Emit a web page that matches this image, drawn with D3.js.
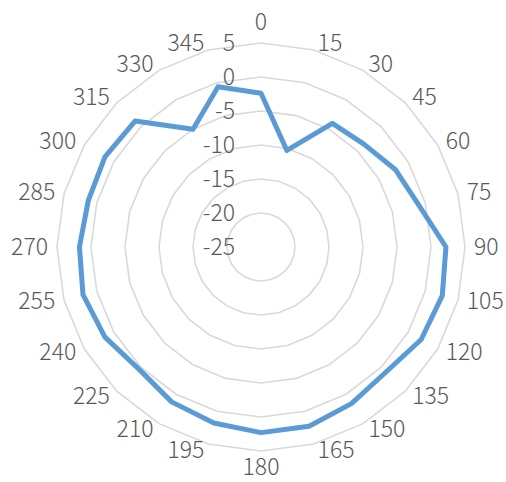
<!DOCTYPE html>
<html>
<head>
<meta charset="utf-8">
<script src="https://cdn.jsdelivr.net/npm/d3@7"></script>
<style>
    body { margin: 0; background: #fff; }
    text { font-family: "Noto Sans CJK SC", "Noto Sans", sans-serif; font-weight: 300; fill: #595959; }
</style>
</head>
<body>
<div id="chart"></div>
<script>
// angle categories (degrees)
let categories = ["0", "15", "30", "45", "60", "75", "90", "105", "120", "135", "150", "165",
    "180", "195", "210", "225", "240", "255", "270", "285", "300", "315", "330", "345"];
// series values
let values = [-2.4, -10.3, -4.0, -3.6, -2.2, -1.0, 2.2, 2.6, 2.2, 1.0, 1.6, 2.3,
    2.3, 1.8, 1.3, 0.4, 1.5, 2.1, 1.7, 1.3, 1.5, 1.2, -5.0, -0.6];
// radial ticks
let ticks = [5, 0, -5, -10, -15, -20, -25];
let rMin = -25, rMax = 5;

let width = 506, height = 482;
let cx = 261, cy = 247, R = 204;

let svg = d3.select("#chart").append("svg")
    .attr("width", width)
    .attr("height", height);

let r = d3.scaleLinear().domain([rMin, rMax]).range([0, R]);
let angle = d3.scalePoint().domain(categories.concat(["360"])).range([0, 2 * Math.PI]);

let g = svg.append("g").attr("transform", `translate(${cx},${cy})`);

// polygon grid rings
let ring = d3.lineRadial()
    .angle(d => angle(d))
    .curve(d3.curveLinearClosed);

g.selectAll(".ring")
    .data(ticks.filter(t => t > rMin))
    .enter().append("path")
    .attr("class", "ring")
    .attr("d", t => ring.radius(r(t))(categories))
    .attr("fill", "none")
    .attr("stroke", "#d9d9d9")
    .attr("stroke-width", 1.6);

// radial tick labels, left of the 0 axis
g.selectAll(".tick")
    .data(ticks)
    .enter().append("text")
    .attr("class", "tick")
    .attr("x", -26)
    .attr("y", t => -r(t))
    .attr("dy", "0.33em")
    .attr("text-anchor", "end")
    .style("font-size", "23px")
    .text(t => t);

// data line
let line = d3.lineRadial()
    .angle((d, i) => angle(categories[i]))
    .radius(d => r(d))
    .curve(d3.curveLinearClosed);

g.append("path")
    .datum(values)
    .attr("d", line)
    .attr("fill", "none")
    .attr("stroke", "#5b9bd5")
    .attr("stroke-width", 5)
    .attr("stroke-linejoin", "round");

// category labels: start/end aligned at the anchor, centred at top and bottom
let labelR = R + 7;
g.selectAll(".cat")
    .data(categories)
    .enter().append("text")
    .attr("class", "cat")
    .style("font-size", "23px")
    .each(function(d) {
        let a = angle(d);
        let s = Math.sin(a), c = Math.cos(a);
        let t = d3.select(this).text(d);
        if (Math.abs(s) < 1e-6) {
            t.attr("text-anchor", "middle")
                .attr("x", 0)
                .attr("y", c > 0 ? -(R + 20.5) : R + 16)
                .attr("dy", "0.33em");
        } else {
            t.attr("text-anchor", s > 0 ? "start" : "end")
                .attr("x", s * labelR + (s > 0 ? 2 : -2))
                .attr("y", -c * labelR)
                .attr("dy", "0.33em");
        }
    });
</script>
</body>
</html>
